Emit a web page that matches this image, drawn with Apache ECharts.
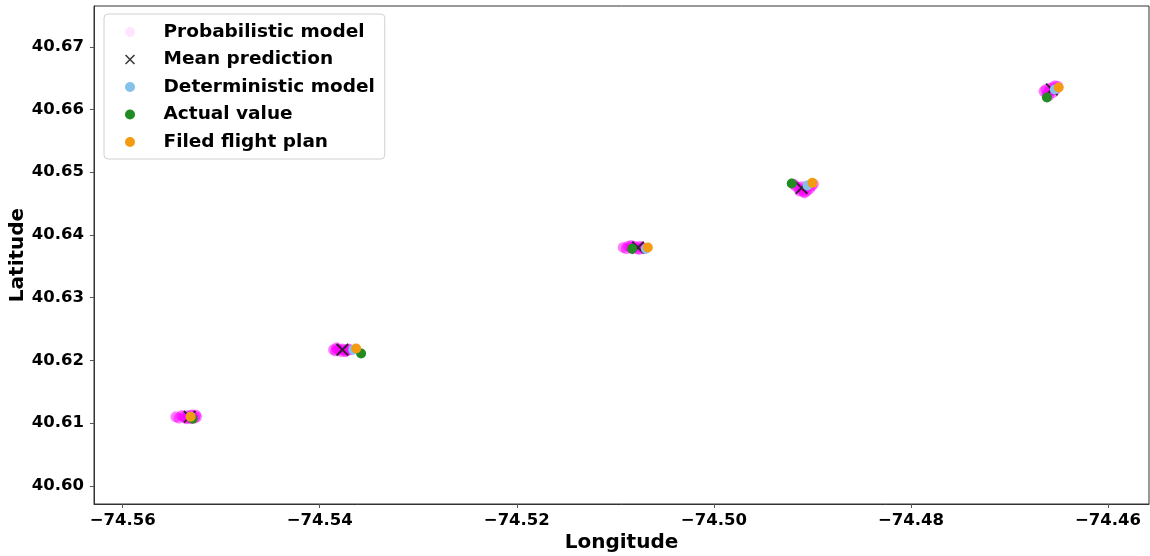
<!DOCTYPE html>
<html>
<head>
<meta charset="utf-8">
<script src="https://cdn.jsdelivr.net/npm/echarts@6/dist/echarts.min.js"></script>
<style>
  html, body { margin: 0; padding: 0; background: #fff; }
  #main { width: 1150px; height: 556px; }
</style>
</head>
<body>
<div id="main"></div>
<script>
// Echantillons du modele probabiliste [lon, lat]
const probabilistic = [
    [-74.5546, 40.6110], [-74.5543, 40.6108], [-74.5540, 40.6112], [-74.5538, 40.6110],
    [-74.5536, 40.6108], [-74.5534, 40.6112], [-74.5532, 40.6110], [-74.5531, 40.6107],
    [-74.5529, 40.6112], [-74.5527, 40.6108], [-74.5526, 40.6113], [-74.5525, 40.6110],
    [-74.5535, 40.6107], [-74.5530, 40.6113],
    [-74.5386, 40.6217], [-74.5384, 40.6215], [-74.5382, 40.6218], [-74.5380, 40.6217],
    [-74.5378, 40.6214], [-74.5377, 40.6218], [-74.5375, 40.6217], [-74.5373, 40.6215],
    [-74.5371, 40.6218], [-74.5369, 40.6217], [-74.5383, 40.6220], [-74.5374, 40.6214],
    [-74.5092, 40.6380], [-74.5089, 40.6378], [-74.5087, 40.6382], [-74.5085, 40.6380],
    [-74.5083, 40.6378], [-74.5081, 40.6382], [-74.5079, 40.6380], [-74.5077, 40.6378],
    [-74.5075, 40.6382], [-74.5073, 40.6380], [-74.5071, 40.6378], [-74.5084, 40.6383],
    [-74.5076, 40.6377],
    [-74.4919, 40.6481], [-74.4917, 40.6478], [-74.4914, 40.6475], [-74.4911, 40.6472],
    [-74.4909, 40.6469], [-74.4906, 40.6470], [-74.4903, 40.6473], [-74.4901, 40.6478],
    [-74.4899, 40.6481], [-74.4911, 40.6477], [-74.4907, 40.6475], [-74.4913, 40.6470],
    [-74.4905, 40.6478], [-74.4908, 40.6467],
    [-74.4665, 40.6629], [-74.4663, 40.6632], [-74.4661, 40.6627], [-74.4659, 40.6634],
    [-74.4657, 40.6630], [-74.4655, 40.6635], [-74.4653, 40.6632], [-74.4651, 40.6637],
    [-74.4662, 40.6624], [-74.4660, 40.6622], [-74.4656, 40.6627], [-74.4654, 40.6638]
];
const meanPrediction = [
    [-74.5532, 40.6110], [-74.5377, 40.6217], [-74.5077, 40.6380],
    [-74.4911, 40.6475], [-74.4657, 40.6632]
];
const deterministic = [
    [-74.5531, 40.6110], [-74.5366, 40.6217], [-74.5069, 40.6378],
    [-74.4905, 40.6479], [-74.4654, 40.6632]
];
const actualValue = [
    [-74.5529, 40.6107], [-74.5358, 40.6211], [-74.5083, 40.6378],
    [-74.4921, 40.6482], [-74.4662, 40.6619]
];
const filedPlan = [
    [-74.5531, 40.6110], [-74.5363, 40.6219], [-74.5067, 40.6380],
    [-74.4900, 40.6483], [-74.4650, 40.6635]
];
const xTicks = [-74.56, -74.54, -74.52, -74.50, -74.48, -74.46];
const yTicks = [40.60, 40.61, 40.62, 40.63, 40.64, 40.65, 40.66, 40.67];

const font = 'DejaVu Sans';
const crossPath = 'path://M0,1.1L1.1,0L10,8.9L8.9,10ZM8.9,0L10,1.1L1.1,10L0,8.9Z';

const chart = echarts.init(document.getElementById('main'), null, { renderer: 'canvas' });

const axisCommon = {
    type: 'value',
    scale: true,
    splitLine: { show: false },
    axisLine: { show: true, onZero: false, lineStyle: { color: '#333', width: 1 } },
    axisTick: { show: true, length: 4, lineStyle: { color: '#555' } },
    nameLocation: 'middle',
    nameMoveOverlap: false,
    nameTextStyle: { fontFamily: font, fontWeight: 'bold', fontSize: 20, color: '#000' }
};

chart.setOption({
    animation: false,
    grid: {
        left: 94, right: 1, top: 6, bottom: 52,
        outerBoundsMode: 'none',
        show: true, borderColor: '#333', borderWidth: 1
    },
    legend: {
        orient: 'vertical',
        left: 104, top: 14,
        padding: [8, 10, 7, 21],
        itemWidth: 57, itemHeight: 10, itemGap: 7.5,
        backgroundColor: 'rgba(255,255,255,0.8)',
        borderColor: '#d0d0d0', borderWidth: 1, borderRadius: 4,
        textStyle: { fontFamily: font, fontWeight: 'bold', fontSize: 18.5, lineHeight: 20, color: '#000' },
        data: [
            { name: 'Probabilistic model', itemStyle: { opacity: 0.1 } },
            'Mean prediction', 'Deterministic model', 'Actual value', 'Filed flight plan'
        ]
    },
    xAxis: Object.assign({}, axisCommon, {
        name: 'Longitude', nameGap: 29,
        min: -74.56291, max: -74.45584,
        axisTick: Object.assign({}, axisCommon.axisTick, { customValues: xTicks }),
        axisLabel: {
            customValues: xTicks, margin: 8,
            fontFamily: font, fontWeight: 'bold', fontSize: 16.5, color: '#000',
            formatter: v => (v < 0 ? '\u2212' : '') + Math.abs(v).toFixed(2)
        }
    }),
    yAxis: Object.assign({}, axisCommon, {
        name: 'Latitude', nameGap: 66,
        min: 40.5971, max: 40.6765,
        axisTick: Object.assign({}, axisCommon.axisTick, { customValues: yTicks }),
        axisLabel: {
            customValues: yTicks, margin: 10,
            fontFamily: font, fontWeight: 'bold', fontSize: 16.5, color: '#000',
            formatter: v => v.toFixed(2)
        }
    }),
    series: [
        {
            name: 'Probabilistic model', type: 'scatter', data: probabilistic,
            symbolSize: 11, itemStyle: { color: '#ff00ff', opacity: 0.5 }
        },
        {
            name: 'Mean prediction', type: 'scatter', data: meanPrediction,
            symbol: crossPath, symbolSize: 13, itemStyle: { color: '#222', opacity: 0.9 }
        },
        {
            name: 'Deterministic model', type: 'scatter', data: deterministic,
            symbolSize: 10, itemStyle: { color: '#85c1e9', opacity: 1 }
        },
        {
            name: 'Actual value', type: 'scatter', data: actualValue,
            symbolSize: 10, itemStyle: { color: '#228b22', opacity: 1 }
        },
        {
            name: 'Filed flight plan', type: 'scatter', data: filedPlan,
            symbolSize: 10, itemStyle: { color: '#f39c12', opacity: 1 }
        }
    ]
});

window.addEventListener('resize', () => {
    chart.resize();
});
</script>
</body>
</html>
